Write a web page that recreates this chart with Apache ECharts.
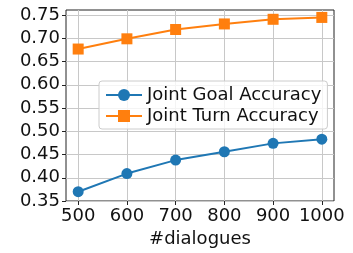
<!DOCTYPE html>
<html>
<head>
<meta charset="utf-8">
<script src="https://cdn.jsdelivr.net/npm/echarts@6/dist/echarts.min.js"></script>
<style>
  html, body { margin: 0; padding: 0; background: #fff; }
</style>
</head>
<body>
<div id="chart" style="width: 353px; height: 253px"></div>
<script>
// data
const dialogues = [500, 600, 700, 800, 900, 1000];
const jointGoal = [0.370, 0.409, 0.438, 0.456, 0.474, 0.483];
const jointTurn = [0.677, 0.699, 0.719, 0.731, 0.741, 0.745];
const yTicks = [0.35, 0.40, 0.45, 0.50, 0.55, 0.60, 0.65, 0.70, 0.75];

const font = "DejaVu Sans";
const chart = echarts.init(document.getElementById("chart"));

const option = {
  backgroundColor: "#fff",
  animation: false,
  textStyle: { fontFamily: font },
  grid: {
    left: 66,
    top: 10,
    right: 19,
    bottom: 52,
    show: true,
    borderColor: "#222",
    borderWidth: 1,
    backgroundColor: "transparent",
  },
  legend: {
    orient: "vertical",
    left: 99,
    top: 81,
    padding: [5, 6, 4, 6],
    itemWidth: 36,
    itemHeight: 15,
    itemGap: 3,
    backgroundColor: "rgba(255,255,255,0.8)",
    borderColor: "#cccccc",
    borderWidth: 1,
    borderRadius: 3,
    textStyle: { fontFamily: font, fontSize: 18, color: "#111" },
    data: ["Joint Goal Accuracy", "Joint Turn Accuracy"],
  },
  xAxis: {
    type: "value",
    min: 475,
    max: 1025,
    name: "#dialogues",
    nameLocation: "middle",
    nameGap: 27,
    nameTextStyle: { fontFamily: font, fontSize: 18, color: "#111" },
    axisLine: { show: false },
    axisTick: {
      show: true,
      inside: false,
      length: 4,
      customValues: dialogues,
      lineStyle: { color: "#222" },
    },
    axisLabel: {
      customValues: dialogues,
      margin: 6,
      fontFamily: font,
      fontSize: 18,
      color: "#111",
      formatter: (v) => String(v),
    },
    splitLine: {
      show: true,
      lineStyle: { color: "#c8c8c8", width: 1 },
    },
  },
  yAxis: {
    type: "value",
    min: 0.35,
    max: 0.761,
    axisLine: { show: false },
    axisTick: {
      show: true,
      inside: false,
      length: 4,
      customValues: yTicks,
      lineStyle: { color: "#222" },
    },
    axisLabel: {
      customValues: yTicks,
      margin: 6,
      fontFamily: font,
      fontSize: 18,
      color: "#111",
      formatter: (v) => v.toFixed(2),
    },
    splitLine: {
      show: true,
      lineStyle: { color: "#c8c8c8", width: 1 },
    },
  },
  series: [
    {
      name: "Joint Goal Accuracy",
      type: "line",
      data: dialogues.map((d, i) => [d, jointGoal[i]]),
      symbol: "circle",
      symbolSize: 11,
      lineStyle: { color: "#1f77b4", width: 2 },
      itemStyle: { color: "#1f77b4" },
    },
    {
      name: "Joint Turn Accuracy",
      type: "line",
      data: dialogues.map((d, i) => [d, jointTurn[i]]),
      symbol: "rect",
      symbolSize: 11,
      lineStyle: { color: "#ff7f0e", width: 2 },
      itemStyle: { color: "#ff7f0e" },
    },
  ],
};

chart.setOption(option);
</script>
</body>
</html>
